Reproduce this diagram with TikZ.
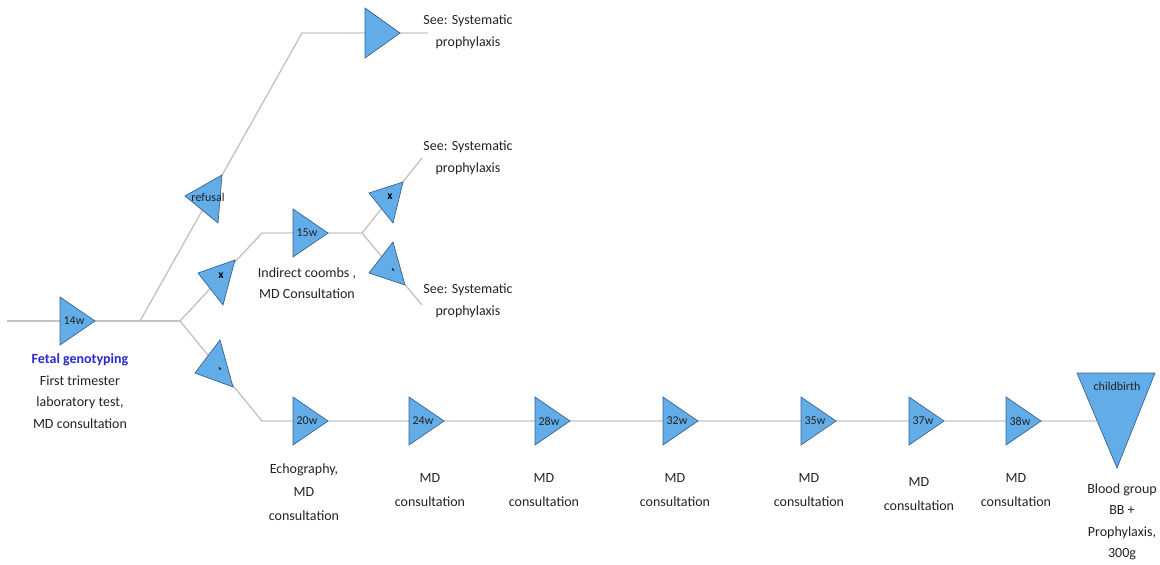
\documentclass[tikz,border=0pt]{standalone}
\usepackage{fontspec}
\setmainfont{Carlito}
\definecolor{trifill}{RGB}{98,172,232}
\definecolor{triedge}{RGB}{62,98,140}
\definecolor{wire}{RGB}{196,196,196}
\definecolor{ink}{RGB}{35,35,35}
\definecolor{headblue}{RGB}{40,40,205}
\tikzset{
  tri/.style={fill=trifill,draw=triedge,line width=0.7pt,line join=miter},
  wire/.style={draw=wire,line width=1.4pt},
  wlab/.style={inner sep=0pt,text=ink,font=\fontsize{12}{13}\selectfont},
  signlab/.style={inner sep=0pt,text=black,font=\fontsize{11.5}{12}\selectfont\bfseries},
  note/.style={align=center,inner sep=0pt,text=ink,font=\fontsize{14}{21.5}\selectfont},
  mdnote/.style={align=center,inner sep=0pt,text=ink,font=\fontsize{14}{23.5}\selectfont},
}
% right-pointing week marker: name, left edge x, axis y, label
\newcommand\weektri[4]{%
  \filldraw[tri] (#2,#3-24) -- (#2+35,#3) -- (#2,#3+24) -- cycle;
  \node[wlab] (#1) at (#2+14,#3) {#4};}
\begin{document}
\begin{tikzpicture}[x=1pt,y=-1pt]
\useasboundingbox (0,0) rectangle (1160,565);
% junctions and path ends
\coordinate (start) at (7,321);
\coordinate (jrefusal) at (140,321);
\coordinate (jsplit) at (180,321);
\coordinate (topbend) at (302,33);
\coordinate (topend) at (428,33);
\coordinate (midbend) at (262,233);
\coordinate (jcoombs) at (362,233);
\coordinate (upend) at (422,158);
\coordinate (downend) at (422,305);
\coordinate (lowbend) at (262,421);
\coordinate (lowend) at (1097,421);

% connectors
\draw[wire] (start) -- (jsplit);
\draw[wire] (jrefusal) -- (topbend) -- (topend);
\draw[wire] (jsplit) -- (midbend) -- (jcoombs) -- (upend);
\draw[wire] (jcoombs) -- (downend);
\draw[wire] (jsplit) -- (lowbend) -- (lowend);

% first trimester marker
\weektri{w14}{60}{321}{14w}

% refusal branch
\filldraw[tri] (185,196) -- (222,175) -- (218,223) -- cycle;
\node[wlab] (refusal) at (208,197) {refusal};
\filldraw[tri] (365,8) -- (400,33) -- (365,58) -- cycle;
\coordinate (topmark) at (377,33);

% positive / negative branches
\filldraw[tri] (198,273) -- (235,260) -- (223,305) -- cycle;
\node[signlab] (negA) at (221,276) {x};
\filldraw[tri] (220,340) -- (195,373) -- (233,387) -- cycle;
\node[signlab,rotate=-55] (posA) at (219,370) {-};
\weektri{w15}{293}{233}{15w}
\filldraw[tri] (369,193) -- (403,182) -- (393,223) -- cycle;
\node[signlab] (negB) at (390,197) {x};
\filldraw[tri] (393,242) -- (369,273) -- (405,285) -- cycle;
\node[signlab,rotate=-55] (posB) at (392,271) {-};

% follow-up chain
\weektri{w20}{293}{421}{20w}
\weektri{w24}{409}{421}{24w}
\weektri{w28}{535}{421}{28w}
\weektri{w32}{663}{421}{32w}
\weektri{w35}{801}{421}{35w}
\weektri{w37}{909}{421}{37w}
\weektri{w38}{1006}{421}{38w}
\filldraw[tri] (1077,373) -- (1155,373) -- (1117,468) -- cycle;
\node[wlab] (birth) at (1117,386) {childbirth};

% descriptions
\node[note] (fetal) at (80,391) {{\bfseries\color{headblue}Fetal genotyping}\\First trimester\\laboratory test,\\MD consultation};
\node[note] (seeA) at (468,32) {See: Systematic\\prophylaxis};
\node[note] (seeB) at (468,158) {See: Systematic\\prophylaxis};
\node[note] (seeC) at (468,301) {See: Systematic\\prophylaxis};
\node[note] (coombs) at (307,283) {Indirect coombs ,\\ MD Consultation};
\node[mdnote] (echo) at (304,492) {Echography,\\MD\\consultation};
\node[mdnote] (md24) at (430,490) {MD\\consultation};
\node[mdnote] (md28) at (544,490) {MD\\consultation};
\node[mdnote] (md32) at (675,490) {MD\\consultation};
\node[mdnote] (md35) at (809,490) {MD\\consultation};
\node[mdnote] (md37) at (919,494) {MD\\consultation};
\node[mdnote] (md38) at (1016,490) {MD\\consultation};
\node[note] (blood) at (1122,522) {Blood group\\BB +\\Prophylaxis,\\300g};
\end{tikzpicture}
\end{document}
